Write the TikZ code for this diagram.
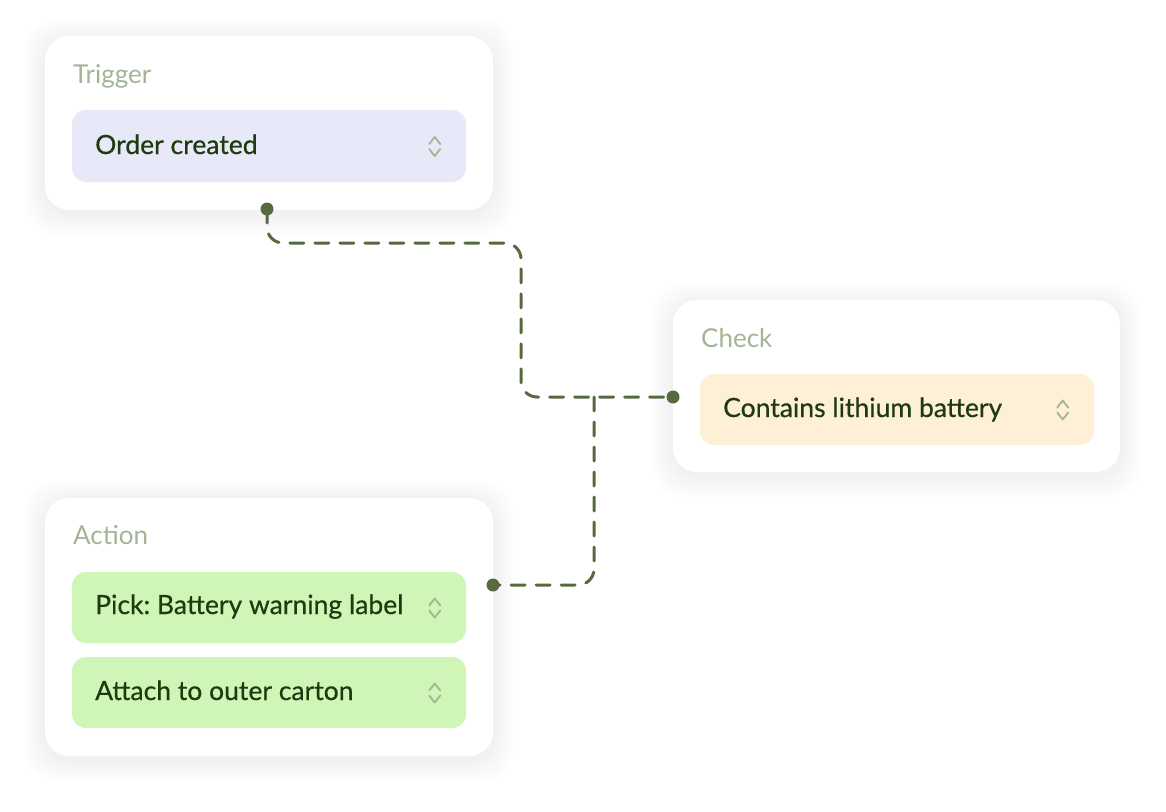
\documentclass[tikz,border=0pt]{standalone}
\usepackage{fontspec}
\setmainfont{Lato}
\newfontfamily\pillfont{Lato}[FakeBold=0.5]
\usetikzlibrary{positioning,backgrounds,fit}
\pgfdeclarelayer{bottom}
\pgfsetlayers{bottom,background,main}
\frenchspacing

\definecolor{labelGray}{HTML}{A3B596}
\definecolor{textGreen}{HTML}{1E3A0E}
\definecolor{linkGreen}{HTML}{56693F}
\definecolor{chevGray}{HTML}{A2B595}
\definecolor{trigFill}{HTML}{E8E9F8}
\definecolor{checkFill}{HTML}{FEEFD7}
\definecolor{actFill}{HTML}{CFF5B7}

\begin{document}
\begin{tikzpicture}[x=1pt,y=-1pt,
    card/.style={fill=white,rounded corners=24pt,inner sep=0pt,minimum width=448pt},
    shade/.style={fill=black,fill opacity=0.008,draw=none,rounded corners=34pt,yshift=-4pt},
    pill/.style={rounded corners=14pt,inner sep=0pt,minimum width=394pt,minimum height=72pt},
    lbl/.style={anchor=base west,inner sep=0pt,text=labelGray,font=\fontsize{26}{30}\selectfont},
    txt/.style={anchor=base west,inner sep=0pt,text=textGreen,font=\pillfont\fontsize{26.5}{30}\selectfont},
    chev/.style={chevGray,line width=1.8pt,line cap=round,line join=round},
    link/.style={linkGreen,line width=3pt,line cap=round,dash pattern=on 14pt off 11pt,rounded corners=16pt},
    dot/.style={circle,fill=linkGreen,inner sep=0pt,minimum size=13pt}]
  \begin{pgfonlayer}{bottom}
    \fill[white] (0,0) rectangle (1166,811);
  \end{pgfonlayer}
  \useasboundingbox (0,0) rectangle (1166,811);

  % cards
  \node[card,minimum height=174pt] (trig) at (269,123) {};
  \node[card,minimum width=447pt,minimum height=172pt] (check) at (896.5,386) {};
  \node[card,minimum height=258pt] (act) at (269,627) {};

  % soft shadows
  \begin{pgfonlayer}{background}
    \foreach \c in {trig,check,act}
      \foreach \i in {1,...,7}
        \node[shade,fit=(\c),inner sep=3*\i pt] (\c-shade-\i) {};
  \end{pgfonlayer}

  % headings
  \node[lbl] (trigLbl) at (73,83) {Trigger};
  \node[lbl] (checkLbl) at (701,347) {Check};
  \node[lbl] (actLbl) at (73,544) {Action};

  % fields
  \node[pill,fill=trigFill] (trigPill) at (269,146) {};
  \node[pill,fill=checkFill,minimum height=71pt] (checkPill) at (897,409.5) {};
  \node[pill,fill=actFill,minimum height=71pt] (pickPill) at (269,607.5) {};
  \node[pill,fill=actFill,minimum height=71pt] (attPill) at (269,692.5) {};

  \node[txt] (trigTxt) at (95,154) {Order created};
  \node[txt] (checkTxt) at (723,417) {Contains lithium battery};
  \node[txt] (pickTxt) at (95,614) {Pick: Battery warning label};
  \node[txt] (attTxt) at (95,700) {Attach to outer carton};

  \foreach \p in {trigPill,checkPill,pickPill,attPill} {
    \draw[chev] ([shift={(-37,-2)}]\p.east) -- ([shift={(-31.5,-9)}]\p.east) -- ([shift={(-26,-2)}]\p.east);
    \draw[chev] ([shift={(-37,3)}]\p.east) -- ([shift={(-31.5,10)}]\p.east) -- ([shift={(-26,3)}]\p.east);
  }

  % connectors
  \coordinate (trigOut) at (267,209);
  \coordinate (checkIn) at (673,397);
  \coordinate (actOut) at (493,585);
  \coordinate (split) at (594,397);
  \draw[link] (trigOut) |- (521,243) |- (checkIn);
  \draw[link] (split) |- (actOut);
  \node[dot] (trigDot) at (trigOut) {};
  \node[dot] (checkDot) at (checkIn) {};
  \node[dot] (actDot) at (actOut) {};
\end{tikzpicture}
\end{document}
